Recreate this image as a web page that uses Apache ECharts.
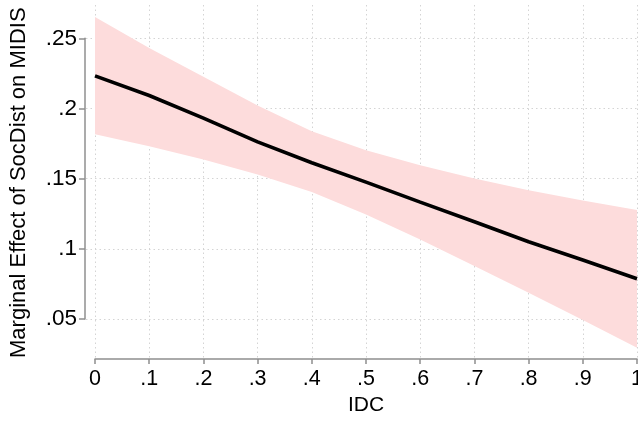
<!DOCTYPE html>
<html>
<head>
<meta charset="utf-8">
<script src="https://cdn.jsdelivr.net/npm/echarts@6/dist/echarts.min.js"></script>
<style>
html,body{margin:0;padding:0;background:#fff;}
#chart{width:638px;height:422px;}
</style>
</head>
<body>
<div id="chart"></div>
<script>
// Data
const idc = [0, 0.1, 0.2, 0.3, 0.4, 0.5, 0.6, 0.7, 0.8, 0.9, 1];
const effect = [0.2232, 0.2092, 0.1931, 0.1762, 0.1613, 0.1475, 0.1333, 0.1193, 0.1050, 0.0920, 0.0787];
const upper  = [0.2652, 0.2431, 0.2225, 0.2021, 0.1838, 0.1703, 0.1596, 0.1501, 0.1418, 0.1345, 0.1276];
const lower  = [0.1817, 0.1731, 0.1636, 0.1530, 0.1404, 0.1245, 0.1067, 0.0877, 0.0687, 0.0493, 0.0296];
const xTicks = [0, 0.1, 0.2, 0.3, 0.4, 0.5, 0.6, 0.7, 0.8, 0.9, 1];
const yTicks = [0.05, 0.1, 0.15, 0.2, 0.25];
const yTitle = 'Marginal Effect of SocDist on MIDIS';
const xTitle = 'IDC';

const FONT = 'Liberation Sans, Arial, Helvetica, sans-serif';
const AXIS_COLOR = '#8f8f8f';
const GRID_COLOR = '#d4d4d4';

function fmt(v) {
  const r = Math.round(v * 1000) / 1000;
  if (r === 0) return '0';
  if (r === 1) return '1';
  return String(r).replace(/^0/, '');
}

const bandData = idc.map((x, i) => [x, lower[i], upper[i]]);

const chart = echarts.init(document.getElementById('chart'), null, {renderer: 'canvas'});
chart.setOption({
  animation: false,
  backgroundColor: '#ffffff',
  textStyle: {fontFamily: FONT},
  grid: [
    {left: 95, right: 1, top: 5, bottom: 63, containLabel: false, outerBoundsMode: 'none'},
    {left: 86, right: 1, top: 38.3, bottom: 422 - 319.1, containLabel: false, outerBoundsMode: 'none'}
  ],
  xAxis: [
    {
      gridIndex: 0, type: 'value', min: 0, max: 1, interval: 0.1,
      name: xTitle, nameLocation: 'middle', nameGap: 34,
      nameTextStyle: {fontSize: 21, color: '#000', fontFamily: FONT},
      axisLine: {show: true, onZero: false, lineStyle: {color: AXIS_COLOR, width: 1.5}},
      axisTick: {show: true, inside: false, length: 5, lineStyle: {color: AXIS_COLOR, width: 1.5}},
      axisLabel: {fontSize: 21.5, color: '#000', margin: 9, fontFamily: FONT, formatter: fmt, showMinLabel: true, showMaxLabel: true, hideOverlap: false},
      splitLine: {show: true, lineStyle: {color: GRID_COLOR, type: [1.5, 3], width: 1}}
    },
    {
      gridIndex: 1, type: 'value', min: 0, max: 1, show: false,
      axisLine: {onZero: false}
    }
  ],
  yAxis: [
    {
      gridIndex: 0, type: 'value', min: 0.0215, max: 0.2737, show: false,
      axisLine: {onZero: false},
      splitLine: {show: false}
    },
    {
      gridIndex: 1, type: 'value', min: 0.05, max: 0.25, interval: 0.05, offset: 1,
      name: yTitle, nameLocation: 'middle', nameGap: 55,
      nameTextStyle: {fontSize: 22, color: '#000', fontFamily: FONT, padding: [0, 8, 0, 0]},
      axisLine: {show: true, onZero: false, lineStyle: {color: AXIS_COLOR, width: 1.5}},
      axisTick: {show: true, inside: false, length: 6, lineStyle: {color: AXIS_COLOR, width: 1.5}},
      axisLabel: {fontSize: 22.5, color: '#000', margin: 8, fontFamily: FONT, formatter: fmt, showMinLabel: true, showMaxLabel: true},
      splitLine: {show: true, lineStyle: {color: GRID_COLOR, type: [1.5, 3], width: 1}}
    }
  ],
  series: [
    {
      name: 'ci', type: 'custom', xAxisIndex: 0, yAxisIndex: 0,
      data: bandData,
      encode: {x: 0, y: [1, 2]},
      silent: true, z: 1,
      renderItem: function (params, api) {
        if (params.dataIndex !== 0) return null;
        const top = bandData.map(d => api.coord([d[0], d[2]]));
        const bot = bandData.slice().reverse().map(d => api.coord([d[0], d[1]]));
        return {
          type: 'polygon',
          shape: {points: top.concat(bot)},
          style: {fill: 'rgb(253,220,220)', stroke: null}
        };
      }
    },
    {
      name: 'effect', type: 'line', xAxisIndex: 0, yAxisIndex: 0,
      data: idc.map((x, i) => [x, effect[i]]),
      symbol: 'none', smooth: false,
      lineStyle: {color: '#000', width: 3.6}, z: 3
    }
  ]
});
</script>
</body>
</html>
